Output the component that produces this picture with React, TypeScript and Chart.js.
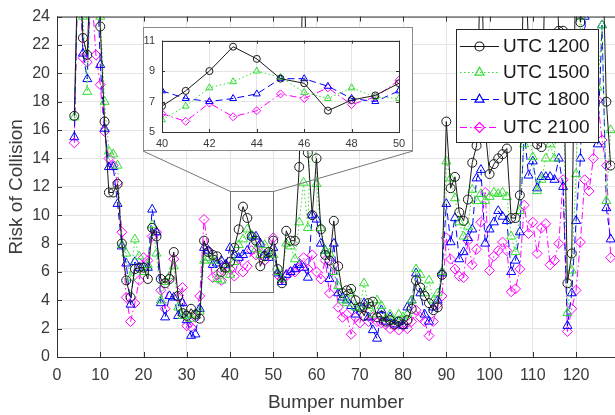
import React, { useEffect, useRef } from "react";
import { Chart, registerables } from "chart.js";
Chart.register(...registerables);

// ---------- data ----------
const bumpers = [
  4, 5, 6, 7, 8, 9, 10, 11, 12, 13,
  14, 15, 16, 17, 18, 19, 20, 21, 22, 23,
  24, 25, 26, 27, 28, 29, 30, 31, 32, 33,
  34, 35, 36, 37, 38, 39, 40, 41, 42, 43,
  44, 45, 46, 47, 48, 49, 50, 51, 52, 53,
  54, 55, 56, 57, 58, 59, 60, 61, 62, 63,
  64, 65, 66, 67, 68, 69, 70, 71, 72, 73,
  74, 75, 76, 77, 78, 79, 80, 81, 82, 83,
  84, 85, 86, 87, 88, 89, 90, 91, 92, 93,
  94, 95, 96, 97, 98, 99, 100, 101, 102, 103,
  104, 105, 106, 107, 108, 109, 110, 111, 112, 113,
  114, 115, 116, 117, 118, 119, 120, 121, 122, 123,
  124, 125, 126, 127, 128,
];

const utc1200 = [
  17.0, 30, 22.5, 21.3, 30, 30, 23.3, 16.6, 11.6, 11.6,
  12.2, 8.0, 5.4, 4.2, 6.2, 6.3, 6.3, 5.5, 9.1, 8.5,
  5.5, 5.2, 5.5, 7.4, 4.3, 3.1, 2.9, 3.4, 3.0, 2.7,
  8.2, 7.4, 7.2, 7.1, 6.0, 6.3, 6.7, 7.7, 9.0, 10.6,
  9.8, 8.5, 8.2, 6.4, 7.1, 7.4, 8.2, 6.2, 5.2, 8.9,
  8.2, 8.2, 13.4, 30, 14.4, 10.0, 14.0, 9.0, 7.2, 6.8,
  9.6, 6.4, 4.5, 4.7, 4.8, 4.0, 3.5, 2.9, 3.8, 3.9,
  2.8, 2.9, 2.5, 2.6, 2.3, 2.5, 2.3, 2.6, 3.4, 5.4,
  4.9, 4.3, 3.8, 3.3, 3.5, 5.8, 16.6, 11.9, 12.7, 10.2,
  9.6, 11.1, 13.7, 14.9, 30, 16.0, 12.9, 13.6, 14.0, 14.3,
  14.7, 9.8, 9.8, 11.4, 30, 22, 16.0, 15.0, 14.8, 30,
  30, 30, 23.0, 23.0, 5.2, 7.3, 30, 23.6, 30, 26,
  30, 25, 30, 18, 13.5,
];

const utc1500 = [
  16.9, 30, 24.0, 18.7, 30, 30, 24.0, 18.0, 14.5, 14.3,
  13.5, 7.9, 7.3, 5.6, 8.3, 7.1, 6.0, 6.5, 9.3, 7.3,
  4.0, 5.3, 5.7, 6.4, 3.5, 2.9, 3.0, 2.7, 3.0, 3.2,
  6.8, 7.0, 6.8, 5.5, 5.4, 6.2, 5.8, 6.7, 7.9, 8.3,
  9.0, 8.6, 7.6, 7.2, 7.9, 7.3, 7.2, 6.0, 5.5, 8.0,
  7.8, 6.9, 9.5, 12.3, 9.1, 20, 12.2, 9.1, 7.5, 7.3,
  6.0, 5.0, 4.0, 3.8, 4.5, 3.5, 3.5, 5.2, 3.6, 3.0,
  4.0, 3.6, 2.7, 3.0, 2.5, 3.0, 2.8, 3.0, 4.0, 6.2,
  5.8, 4.5, 5.4, 4.0, 4.5, 6.0, 13.8, 12.6, 11.2, 9.5,
  8.5, 9.2, 11.8, 11.0, 11.5, 11.0, 11.3, 11.6, 11.5, 11.6,
  11.3, 8.5, 7.4, 10.3, 15, 16, 14.1, 11.7, 12.5, 14,
  15, 14, 19, 20, 3.1, 6.1, 12.9, 24, 22, 20,
  18, 19, 23.4, 11, 16,
];

const utc1800 = [
  15.5, 30, 21.4, 19.6, 30, 30, 20.6, 16.1, 13.4, 13.4,
  10.8, 7.8, 6.6, 3.7, 6.7, 6.3, 6.3, 6.3, 10.4, 8.8,
  3.8, 2.8, 4.3, 4.2, 2.9, 3.8, 2.6, 1.5, 1.6, 3.4,
  7.7, 7.5, 6.5, 6.6, 6.8, 6.5, 7.7, 7.2, 7.0, 7.2,
  7.5, 8.5, 8.5, 8.0, 7.2, 7.0, 7.7, 5.9, 5.3, 5.8,
  6.0, 6.2, 6.5, 6.3, 5.6, 10.0, 9.7, 8.0, 7.5, 5.5,
  8.0, 4.5, 4.2, 4.0, 3.6, 3.0, 3.5, 3.8, 2.8, 1.9,
  1.3, 3.3, 2.5, 2.8, 2.3, 2.5, 2.2, 3.5, 4.0, 5.9,
  4.5, 3.0, 2.5, 3.5, 4.0, 5.9, 10.8, 8.1, 9.8, 6.9,
  7.4, 8.4, 9.0, 12.6, 13.2, 8.0, 9.0, 9.5, 10.3, 9.9,
  9.6, 6.0, 6.8, 8.8, 16, 12.8, 13.8, 11.9, 12.7, 12.7,
  12.7, 12.5, 14, 12, 2.2, 4.5, 9.6, 14.0, 24, 18,
  22, 15, 23.4, 10.5, 8.3,
];

const utc2100 = [
  15.1, 30, 21.1, 20.8, 26, 21.3, 19.2, 15.9, 14.0, 13.5,
  12.3, 8.8, 4.2, 2.5, 3.8, 5.4, 7.0, 6.8, 8.5, 8.8,
  4.7, 3.4, 5.6, 6.9, 4.2, 4.9, 2.2, 2.1, 2.8, 4.3,
  9.7, 7.5, 5.6, 5.8, 5.4, 6.5, 6.2, 5.7, 6.9, 6.0,
  6.4, 7.5, 7.2, 7.9, 6.8, 7.3, 8.4, 5.8, 5.5, 5.7,
  6.0, 6.0, 6.3, 7.0, 6.2, 7.2, 6.0, 5.5, 6.8, 4.5,
  6.5, 3.5, 2.8, 3.0, 1.6, 2.8, 2.4, 3.5, 2.5, 2.8,
  2.5, 2.4, 2.3, 2.0, 2.2, 1.9, 2.2, 2.0, 2.5, 3.3,
  2.8, 2.5, 1.5, 2.5, 3.7, 4.3, 8.4, 6.9, 6.2, 5.7,
  5.6, 8.2, 6.5, 7.6, 9.5, 11.6, 6.1, 7.1, 7.5, 8.1,
  7.5, 4.6, 4.8, 6.2, 10.7, 8.7, 9.5, 7.3, 9.1, 9.4,
  6.5, 6.8, 8.0, 12.5, 1.8, 3.4, 4.7, 8.1, 12.5, 11.7,
  14, 18.1, 15.3, 13.5, 7.0,
];

const seriesNames = ["UTC 1200", "UTC 1500", "UTC 1800", "UTC 2100"];
const seriesValues = [utc1200, utc1500, utc1800, utc2100];

const xTicks = [0, 10, 20, 30, 40, 50, 60, 70, 80, 90, 100, 110, 120];
const yTicks = [0, 2, 4, 6, 8, 10, 12, 14, 16, 18, 20, 22, 24];
const xRange = [0, 129];
const yRange = [0, 24];

const insetXRange = [40, 50];
const insetYRange = [5, 11];
const insetXTicks = [40, 42, 44, 46, 48, 50];
const insetYTicks = [5, 7, 9, 11];
const zoomBoxY = [4.6, 11.7];

// ---------- styles ----------
const FONT = "'Liberation Sans', Arial, Helvetica, sans-serif";
const TEXT = "#3a3a3a";
const styles = [
  { color: "#1a1a1a", dash: [] as number[], point: "circle", r: 4.5, ir: 3.5 },
  { color: "#33dd33", dash: [1.5, 2.5], point: "triangle", r: 5.2, ir: 4 },
  { color: "#0000ff", dash: [7, 4], point: "triangle", r: 5.2, ir: 4 },
  { color: "#ff00ff", dash: [7, 3, 1.5, 3], point: "rectRot", r: 5, ir: 4 },
];

const INSET = { left: 143, top: 27, w: 270, h: 124 };
const LEGEND = { left: 456, top: 29, right: 598, bottom: 142, rows: [46, 72, 99, 127] };

function drawMarker(ctx: CanvasRenderingContext2D, kind: string, x: number, y: number, r: number) {
  ctx.beginPath();
  if (kind === "circle") {
    ctx.arc(x, y, r, 0, Math.PI * 2);
  } else if (kind === "triangle") {
    for (let k = 0; k < 3; k++) {
      const a = (k * 2 * Math.PI) / 3;
      const px = x + Math.sin(a) * r;
      const py = y - Math.cos(a) * r;
      if (k === 0) ctx.moveTo(px, py);
      else ctx.lineTo(px, py);
    }
    ctx.closePath();
  } else {
    ctx.moveTo(x, y - r);
    ctx.lineTo(x + r, y);
    ctx.lineTo(x, y + r);
    ctx.lineTo(x - r, y);
    ctx.closePath();
  }
  ctx.stroke();
}

const mainDecor = {
  id: "mainDecor",
  afterDatasetsDraw(chart: any) {
    const { ctx, chartArea } = chart;
    const xs = chart.scales.x;
    const ys = chart.scales.y;
    const { left, right, top, bottom } = chartArea;
    ctx.save();
    ctx.strokeStyle = "#333";
    ctx.lineWidth = 1;
    ctx.setLineDash([]);
    ctx.beginPath();
    ctx.moveTo(left, top + 0.5);
    ctx.lineTo(right, top + 0.5);
    ctx.moveTo(left + 0.5, top);
    ctx.lineTo(left + 0.5, bottom + 0.5);
    ctx.moveTo(left, bottom + 0.5);
    ctx.lineTo(right, bottom + 0.5);
    xTicks.forEach((v) => {
      const px = Math.round(xs.getPixelForValue(v)) + 0.5;
      ctx.moveTo(px, bottom);
      ctx.lineTo(px, bottom - 5);
      ctx.moveTo(px, top);
      ctx.lineTo(px, top + 5);
    });
    yTicks.forEach((v) => {
      const py = Math.round(ys.getPixelForValue(v)) + 0.5;
      ctx.moveTo(left, py);
      ctx.lineTo(left + 5, py);
    });
    ctx.stroke();

    // zoom rectangle and connectors
    const x0 = Math.round(xs.getPixelForValue(insetXRange[0])) + 0.5;
    const x1 = Math.round(xs.getPixelForValue(insetXRange[1])) + 0.5;
    const yT = Math.round(ys.getPixelForValue(zoomBoxY[1])) + 0.5;
    const yB = Math.round(ys.getPixelForValue(zoomBoxY[0])) + 0.5;
    ctx.strokeStyle = "#777";
    ctx.strokeRect(x0, yT, x1 - x0, yB - yT);
    ctx.beginPath();
    ctx.moveTo(x0, yT);
    ctx.lineTo(INSET.left, INSET.top + INSET.h);
    ctx.moveTo(x1, yT);
    ctx.lineTo(INSET.left + INSET.w, INSET.top + INSET.h);
    ctx.stroke();

    // legend
    ctx.fillStyle = "#fff";
    ctx.fillRect(LEGEND.left, LEGEND.top, LEGEND.right - LEGEND.left, LEGEND.bottom - LEGEND.top);
    ctx.strokeStyle = "#262626";
    ctx.strokeRect(LEGEND.left + 0.5, LEGEND.top + 0.5, LEGEND.right - LEGEND.left, LEGEND.bottom - LEGEND.top);
    ctx.font = `19px ${FONT}`;
    ctx.textBaseline = "middle";
    ctx.textAlign = "left";
    seriesNames.forEach((name, i) => {
      const st = styles[i];
      const y = LEGEND.rows[i] + 0.5;
      ctx.strokeStyle = st.color;
      ctx.lineWidth = 1.2;
      ctx.setLineDash(st.dash);
      ctx.beginPath();
      ctx.moveTo(460, y);
      ctx.lineTo(499, y);
      ctx.stroke();
      ctx.setLineDash([]);
      ctx.strokeStyle = st.color;
      drawMarker(ctx, st.point, 479.5, y, st.r);
      ctx.fillStyle = "#1a1a1a";
      ctx.fillText(name, 503, LEGEND.rows[i] + 1);
    });
    ctx.restore();
  },
};

const insetDecor = {
  id: "insetDecor",
  beforeDraw(chart: any) {
    const { ctx, width, height } = chart;
    ctx.save();
    ctx.fillStyle = "#fff";
    ctx.fillRect(0, 0, width, height);
    ctx.strokeStyle = "#8a8a8a";
    ctx.lineWidth = 1;
    ctx.strokeRect(0.5, 0.5, width - 1, height - 1);
    ctx.restore();
  },
  afterDatasetsDraw(chart: any) {
    const { ctx, chartArea } = chart;
    const xs = chart.scales.x;
    const ys = chart.scales.y;
    const { left, right, top, bottom } = chartArea;
    ctx.save();
    ctx.strokeStyle = "#333";
    ctx.lineWidth = 1;
    ctx.setLineDash([]);
    ctx.strokeRect(Math.round(left) + 0.5, Math.round(top) + 0.5, Math.round(right - left), Math.round(bottom - top));
    ctx.beginPath();
    insetXTicks.forEach((v) => {
      const px = Math.round(xs.getPixelForValue(v)) + 0.5;
      ctx.moveTo(px, bottom);
      ctx.lineTo(px, bottom - 3);
      ctx.moveTo(px, top);
      ctx.lineTo(px, top + 3);
    });
    insetYTicks.forEach((v) => {
      const py = Math.round(ys.getPixelForValue(v)) + 0.5;
      ctx.moveTo(left, py);
      ctx.lineTo(left + 3, py);
      ctx.moveTo(right, py);
      ctx.lineTo(right - 3, py);
    });
    ctx.stroke();
    ctx.restore();
  },
};

function makeDatasets(inset: boolean) {
  return seriesNames.map((name, i) => {
    const st = styles[i];
    const pts = bumpers
      .map((b, j) => ({ x: b, y: seriesValues[i][j] }))
      .filter((p) => !inset || (p.x >= insetXRange[0] && p.x <= insetXRange[1]));
    return {
      label: name,
      data: pts,
      borderColor: st.color,
      borderWidth: 1,
      borderDash: st.dash,
      pointStyle: st.point,
      pointRadius: inset ? st.ir : st.r,
      pointBorderColor: st.color,
      pointBackgroundColor: "rgba(0,0,0,0)",
      pointBorderWidth: 1,
      tension: 0,
      clip: 0,
    };
  });
}

export default function App() {
  const mainRef = useRef<HTMLCanvasElement>(null);
  const insetRef = useRef<HTMLCanvasElement>(null);

  useEffect(() => {
    const main = new Chart(mainRef.current as HTMLCanvasElement, {
      type: "line",
      data: { datasets: makeDatasets(false) as any },
      options: {
        animation: false,
        responsive: false,
        layout: { autoPadding: false, padding: { top: 14, left: 0, right: 0, bottom: 0 } },
        plugins: { legend: { display: false }, tooltip: { enabled: false } },
        scales: {
          x: {
            type: "linear",
            min: xRange[0],
            max: xRange[1],
            afterFit: (s: any) => {
              s.height = 58;
            },
            afterBuildTicks: (s: any) => {
              s.ticks = xTicks.map((v) => ({ value: v }));
            },
            ticks: {
              font: { size: 16, family: FONT },
              color: TEXT,
              padding: 9,
              maxRotation: 0,
              autoSkip: false,
            },
            grid: { color: "#e4e4e4", drawTicks: false },
            border: { display: false },
            title: {
              display: true,
              text: "Bumper number",
              font: { size: 19, family: FONT },
              color: TEXT,
              padding: { top: 0, bottom: 1 },
            },
          },
          y: {
            type: "linear",
            min: yRange[0],
            max: yRange[1],
            afterFit: (s: any) => {
              s.width = 57;
            },
            afterBuildTicks: (s: any) => {
              s.ticks = yTicks.map((v) => ({ value: v }));
            },
            ticks: {
              font: { size: 16, family: FONT },
              color: TEXT,
              padding: 7,
              autoSkip: false,
            },
            grid: { color: "#e4e4e4", drawTicks: false },
            border: { display: false },
            title: {
              display: true,
              text: "Risk of Collision",
              font: { size: 19, family: FONT },
              color: TEXT,
              padding: { top: 5, bottom: 0 },
            },
          },
        },
      },
      plugins: [mainDecor],
    } as any);

    const inset = new Chart(insetRef.current as HTMLCanvasElement, {
      type: "line",
      data: { datasets: makeDatasets(true) as any },
      options: {
        animation: false,
        responsive: false,
        layout: { autoPadding: false, padding: { top: 7, left: 0, right: 14, bottom: 0 } },
        plugins: { legend: { display: false }, tooltip: { enabled: false } },
        scales: {
          x: {
            type: "linear",
            min: insetXRange[0],
            max: insetXRange[1],
            afterFit: (s: any) => {
              s.height = 19;
            },
            afterBuildTicks: (s: any) => {
              s.ticks = insetXTicks.map((v) => ({ value: v }));
            },
            ticks: { font: { size: 11, family: FONT }, color: TEXT, padding: 5, maxRotation: 0, autoSkip: false },
            grid: { color: "#e4e4e4", drawTicks: false },
            border: { display: false },
          },
          y: {
            type: "linear",
            min: insetYRange[0],
            max: insetYRange[1],
            afterFit: (s: any) => {
              s.width = 19;
            },
            afterBuildTicks: (s: any) => {
              s.ticks = insetYTicks.map((v) => ({ value: v }));
            },
            ticks: { font: { size: 11, family: FONT }, color: TEXT, padding: 7, autoSkip: false },
            grid: { color: "#e4e4e4", drawTicks: false },
            border: { display: false },
          },
        },
      },
      plugins: [insetDecor],
    } as any);

    return () => {
      main.destroy();
      inset.destroy();
    };
  }, []);

  return (
    <div style={{ position: "absolute", left: 0, top: 0, width: 615, height: 415, background: "#fff" }}>
      <canvas ref={mainRef} width={615} height={415} style={{ position: "absolute", left: 0, top: 0, width: 615, height: 415 }} />
      <canvas
        ref={insetRef}
        width={INSET.w}
        height={INSET.h}
        style={{ position: "absolute", left: INSET.left, top: INSET.top, width: INSET.w, height: INSET.h }}
      />
    </div>
  );
}
